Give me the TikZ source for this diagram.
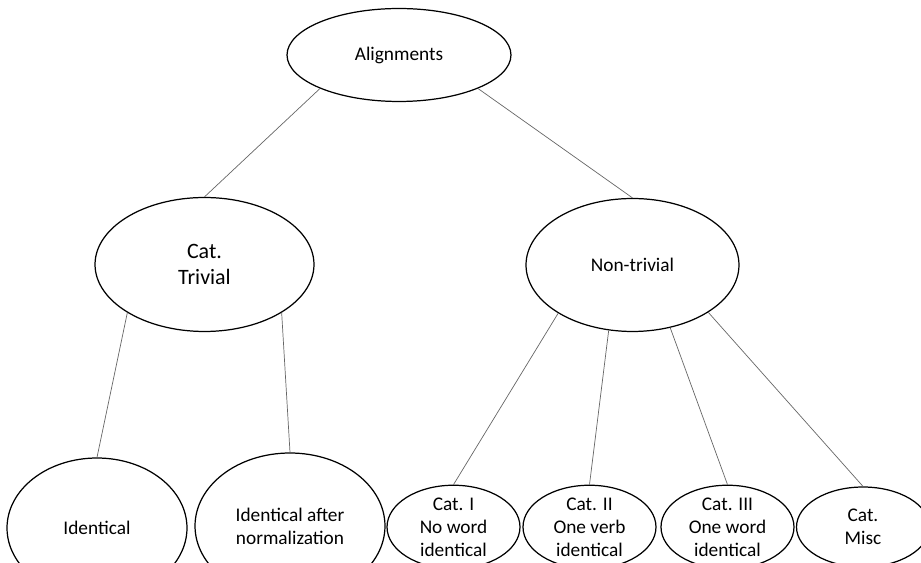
\documentclass[tikz,border=0pt]{standalone}
\usepackage{fontspec}
\setmainfont{Carlito}
\usepackage{tikz}
\usetikzlibrary{shapes.geometric}

\begin{document}
\begin{tikzpicture}[x=0.02cm,y=-0.02cm,
					oval/.style={draw, ellipse, line width=0.7pt, inner sep=0pt, align=center, font=\fontsize{11}{13.2}\selectfont},
					mid/.style={minimum width=4.3cm, minimum height=2.68cm},
					leaf/.style={minimum width=2.66cm, minimum height=1.6cm},
					link/.style={draw=black!60, line width=0.4pt},
				]
				\clip (0,0) rectangle (921,563);
				\node[oval,minimum width=4.48cm,minimum height=1.86cm] (align) at (399,55) {Alignments};
				\node[oval,mid,minimum width=4.38cm,font=\fontsize{12.5}{14.5}\selectfont] (trivial) at (204.5,264.5) {Cat.\\Trivial};
				\node[oval,mid,minimum width=4.26cm,minimum height=2.66cm] (nontrivial) at (632.5,265) {Non-trivial};

				\node[oval,minimum width=3.6cm,minimum height=2.8cm] (ident) at (97,528) {Identical};
				\node[oval,minimum width=3.8cm,minimum height=2.92cm] (identnorm) at (290,526) {Identical after\\normalization};
				\node[oval,leaf] (catI) at (453.5,527) {Cat. I\\No word\\identical};
				\node[oval,leaf] (catII) at (589.5,527) {Cat. II\\One verb\\identical};
				\node[oval,leaf] (catIII) at (727.5,527) {Cat. III\\One word\\identical};
				\node[oval,leaf] (catMisc) at (863,527) {Cat.\\Misc};

				\draw[link] (align.203) -- (trivial.north);
				\draw[link] (align.337) -- (nontrivial.north);
				\draw[link] (trivial.212) -- (ident.north);
				\draw[link] (trivial.328) -- (identnorm.north);
				\draw[link] (nontrivial.213) -- (catI.north);
				\draw[link] (nontrivial.250) -- (catII.north);
				\draw[link] (nontrivial.301) -- (catIII.north);
				\draw[link] (nontrivial.328) -- (catMisc.north);

			\end{tikzpicture}
\end{document}
